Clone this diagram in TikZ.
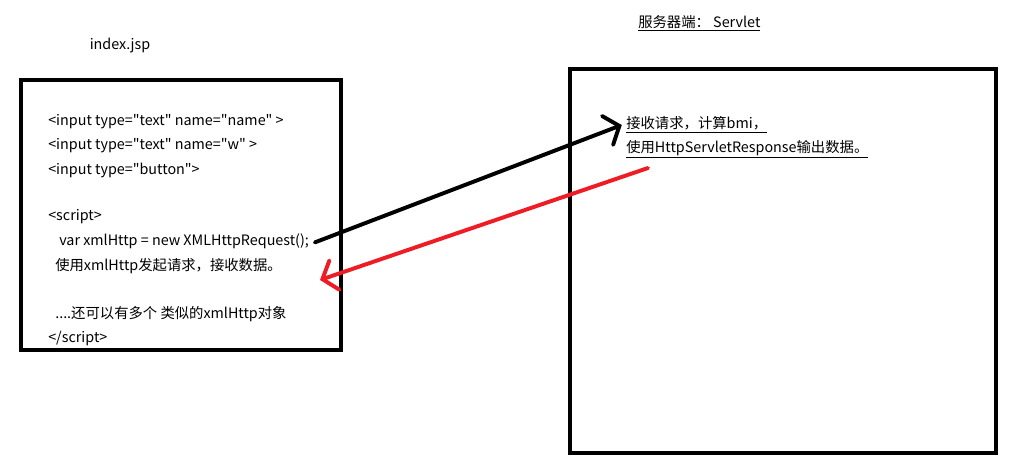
\documentclass[tikz,border=0pt]{standalone}
\usepackage{fontspec}
\newfontfamily\yahei{Noto Sans CJK SC}
\usepackage{xcolor}
\usetikzlibrary{arrows.meta}
\definecolor{AjaxRed}{HTML}{EE1C25}

\tikzset{
  codeline/.style={anchor=west,inner sep=0pt,font=\yahei\fontsize{10.2}{12}\selectfont},
  pagebox/.style={draw=black,line width=3.5pt},
  callarrow/.style={line width=2.8pt,line cap=round,-{Straight Barb[length=9pt,width=22pt,line cap=round]}}
}

\begin{document}
\begin{tikzpicture}[x=0.025cm,y=0.025cm]
\path[use as bounding box] (0,0) rectangle (1018,470);
% client side
\node[codeline,anchor=center] (jsp) at (120,424) {index.jsp};
\draw[pagebox] (21,390) rectangle (341,120);
\node[codeline] (in1) at (48,348) {<input type="text" name="name" >};
\node[codeline] (in2) at (48,324) {<input type="text" name="w" >};
\node[codeline] (in3) at (48,300) {<input type="button">};
\node[codeline] (sc1) at (48,253) {<script>};
\node[codeline] (xhr) at (59,229) {var xmlHttp = new XMLHttpRequest();};
\node[codeline] (use) at (55,204) {使用xmlHttp发起请求，接收数据。};
\node[codeline] (more) at (55,156) {....还可以有多个 类似的xmlHttp对象};
\node[codeline] (sc2) at (48,132) {</script>};
% server side
\node[codeline] (srv) at (638,447) {\underline{服务器端： Servlet}};
\draw[pagebox] (570,401) rectangle (996,17);
\node[codeline] (recv) at (626,345) {\underline{接收请求，计算bmi，}};
\node[codeline] (resp) at (626,321) {\underline{使用HttpServletResponse输出数据。}};
% request and response
\coordinate (ret) at (648,302);
\coordinate (back) at (320,190);
\draw[callarrow] ([xshift=4pt,yshift=-1pt]xhr.east) -- ([xshift=-3pt]recv.west);
\draw[callarrow,AjaxRed] (ret) -- (back);
\end{tikzpicture}
\end{document}
